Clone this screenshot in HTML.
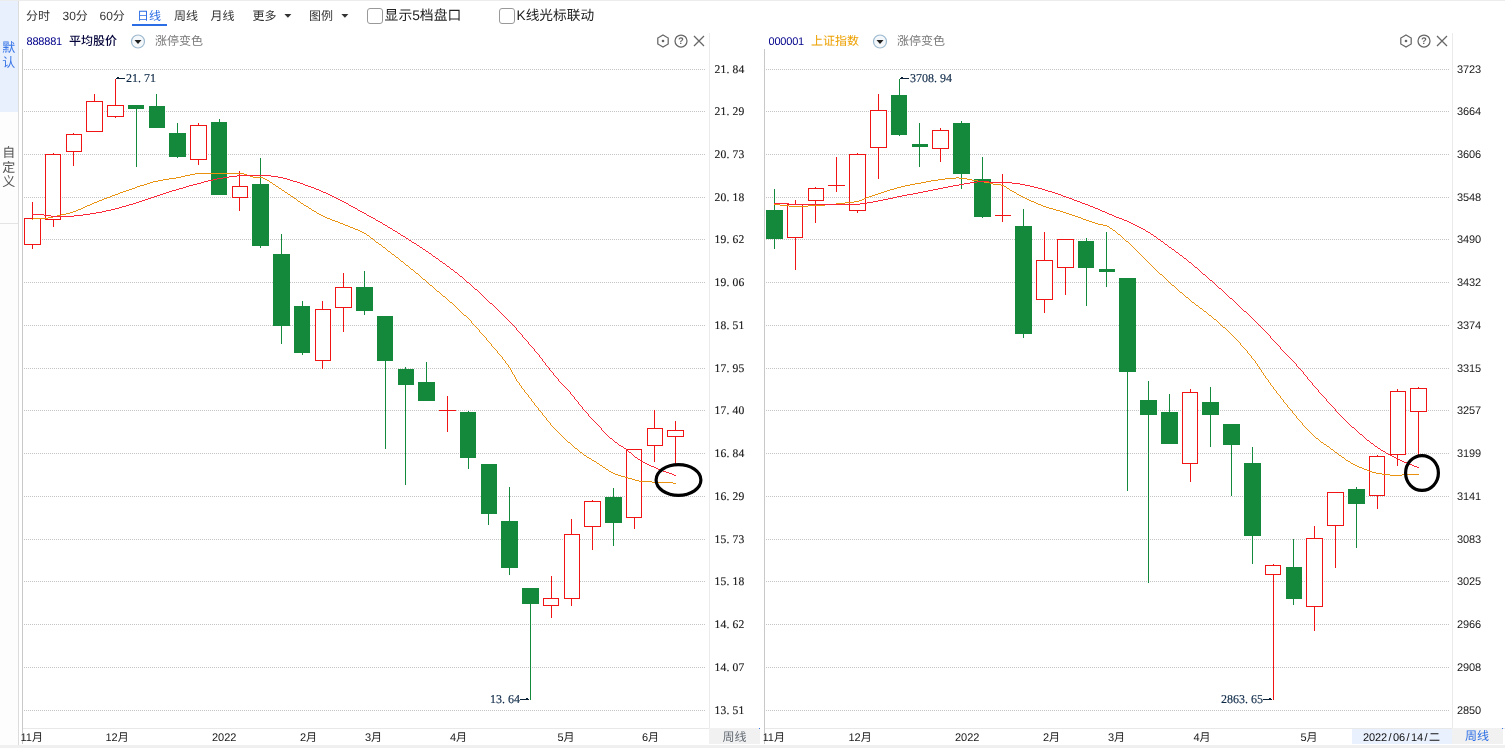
<!DOCTYPE html>
<html lang="zh-CN"><head><meta charset="utf-8"><title>K线图</title>
<style>html,body{margin:0;padding:0;background:#fff;overflow:hidden}svg{display:block}text{white-space:pre}</style>
</head><body>
<svg width="1505" height="748" viewBox="0 0 1505 748" shape-rendering="crispEdges" text-rendering="geometricPrecision">
<rect x="0" y="0" width="1505" height="748" fill="#fff"/>
<rect x="0" y="0" width="1505" height="1" fill="#ececec"/>
<rect x="0" y="745" width="1505" height="3" fill="#f0f0f0"/>
<rect x="0" y="1" width="18" height="744" fill="#fdfdfe"/>
<rect x="0" y="1" width="18" height="111" fill="#e8effd"/>
<rect x="18" y="1" width="1" height="744" fill="#dcdcdc"/>
<rect x="0" y="223" width="18" height="1" fill="#e4e4e4"/>
<text x="2.2 2.2" y="52.3 66.6" font-family="'Liberation Sans','Noto Sans CJK SC',sans-serif" font-size="13" fill="#3b78e7">默认</text>
<text x="2.2 2.2 2.2" y="157.3 171.6 185.9" font-family="'Liberation Sans','Noto Sans CJK SC',sans-serif" font-size="13" fill="#555">自定义</text>
<text x="26" y="19.9" font-family="'Liberation Sans','Noto Sans CJK SC',sans-serif" font-size="12" fill="#333">分时</text>
<text x="62.5" y="19.9" font-family="'Liberation Sans','Noto Sans CJK SC',sans-serif" font-size="12" fill="#333">30分</text>
<text x="99.5" y="19.9" font-family="'Liberation Sans','Noto Sans CJK SC',sans-serif" font-size="12" fill="#333">60分</text>
<text x="137" y="19.9" font-family="'Liberation Sans','Noto Sans CJK SC',sans-serif" font-size="12" fill="#2b6de5">日线</text>
<rect x="132" y="24" width="35" height="2" fill="#2b6de5"/>
<text x="174" y="19.9" font-family="'Liberation Sans','Noto Sans CJK SC',sans-serif" font-size="12" fill="#333">周线</text>
<text x="210.5" y="19.9" font-family="'Liberation Sans','Noto Sans CJK SC',sans-serif" font-size="12" fill="#333">月线</text>
<text x="252.5" y="19.9" font-family="'Liberation Sans','Noto Sans CJK SC',sans-serif" font-size="12" fill="#333">更多</text>
<path d="M284.4,14 L291.4,14 L287.9,17.8 Z" fill="#333" shape-rendering="geometricPrecision"/>
<text x="309" y="19.9" font-family="'Liberation Sans','Noto Sans CJK SC',sans-serif" font-size="12" fill="#333">图例</text>
<path d="M341.4,14 L348.4,14 L344.9,17.8 Z" fill="#333" shape-rendering="geometricPrecision"/>
<rect x="367.5" y="8.5" width="15" height="15" rx="2.5" fill="#fff" stroke="#999" shape-rendering="geometricPrecision"/>
<text x="384.6" y="20.3" font-family="'Liberation Sans','Noto Sans CJK SC',sans-serif" font-size="13.8" fill="#222">显示5档盘口</text>
<rect x="499.5" y="8.5" width="15" height="15" rx="2.5" fill="#fff" stroke="#999" shape-rendering="geometricPrecision"/>
<text x="516.5" y="20.3" font-family="'Liberation Sans','Noto Sans CJK SC',sans-serif" font-size="13.7" fill="#222">K线光标联动</text>
<text x="26.5" y="45" font-family="'Liberation Sans','Noto Sans CJK SC',sans-serif" font-size="11" letter-spacing="-0.2" fill="#00008b">888881</text>
<text x="69.0" y="45.4" font-family="'Liberation Sans','Noto Sans CJK SC',sans-serif" font-size="12" font-weight="500" fill="#05053c">平均股价</text>
<g shape-rendering="geometricPrecision"><circle cx="138.0" cy="41.5" r="6.5" fill="#f4f8fb" stroke="#9db9cf" stroke-width="1.2"/><path d="M134.5,40 L141.5,40 L138.0,44 Z" fill="#222"/></g>
<text x="155.0" y="45.4" font-family="'Liberation Sans','Noto Sans CJK SC',sans-serif" font-size="12" fill="#777">涨停变色</text>
<text x="768.5" y="45" font-family="'Liberation Sans','Noto Sans CJK SC',sans-serif" font-size="11" letter-spacing="-0.2" fill="#00008b">000001</text>
<text x="811.0" y="45.4" font-family="'Liberation Sans','Noto Sans CJK SC',sans-serif" font-size="12" font-weight="400" fill="#eda000">上证指数</text>
<g shape-rendering="geometricPrecision"><circle cx="880.0" cy="41.5" r="6.5" fill="#f4f8fb" stroke="#9db9cf" stroke-width="1.2"/><path d="M876.5,40 L883.5,40 L880.0,44 Z" fill="#222"/></g>
<text x="897.0" y="45.4" font-family="'Liberation Sans','Noto Sans CJK SC',sans-serif" font-size="12" fill="#777">涨停变色</text>
<g shape-rendering="geometricPrecision" fill="none" stroke="#666" stroke-width="1.25">
<path d="M663,35 L668.2,38 L668.2,44 L663,47 L657.8,44 L657.8,38 Z"/>
<circle cx="663" cy="41" r="1.3" fill="#666" stroke="none"/>
<circle cx="681" cy="41" r="6"/>
<text x="681" y="44.3" text-anchor="middle" font-family="'Liberation Sans','Noto Sans CJK SC',sans-serif" font-size="9.5" font-weight="bold" fill="#666" stroke="none">?</text>
<path d="M694,36 L704,46 M704,36 L694,46"/>
</g>
<g shape-rendering="geometricPrecision" fill="none" stroke="#666" stroke-width="1.25">
<path d="M1406,35 L1411.2,38 L1411.2,44 L1406,47 L1400.8,44 L1400.8,38 Z"/>
<circle cx="1406" cy="41" r="1.3" fill="#666" stroke="none"/>
<circle cx="1424" cy="41" r="6"/>
<text x="1424" y="44.3" text-anchor="middle" font-family="'Liberation Sans','Noto Sans CJK SC',sans-serif" font-size="9.5" font-weight="bold" fill="#666" stroke="none">?</text>
<path d="M1437,36 L1447,46 M1447,36 L1437,46"/>
</g>
<rect x="22" y="49" width="1" height="695" fill="#c8c8c8"/>
<rect x="709" y="33" width="1" height="695" fill="#ebebeb"/>
<rect x="764" y="49" width="1" height="695" fill="#c8c8c8"/>
<rect x="1452" y="33" width="1" height="695" fill="#ebebeb"/>
<rect x="23" y="728" width="686" height="1" fill="#e8e8e8"/>
<rect x="765" y="728" width="740" height="1" fill="#e8e8e8"/>
<line x1="24" y1="69.5" x2="705" y2="69.5" stroke="#c4c4c4" stroke-width="1" stroke-dasharray="1 1"/>
<line x1="766" y1="69.5" x2="1450" y2="69.5" stroke="#c4c4c4" stroke-width="1" stroke-dasharray="1 1"/>
<line x1="24" y1="111.5" x2="705" y2="111.5" stroke="#c4c4c4" stroke-width="1" stroke-dasharray="1 1"/>
<line x1="766" y1="111.5" x2="1450" y2="111.5" stroke="#c4c4c4" stroke-width="1" stroke-dasharray="1 1"/>
<line x1="24" y1="154.5" x2="705" y2="154.5" stroke="#c4c4c4" stroke-width="1" stroke-dasharray="1 1"/>
<line x1="766" y1="154.5" x2="1450" y2="154.5" stroke="#c4c4c4" stroke-width="1" stroke-dasharray="1 1"/>
<line x1="24" y1="197.5" x2="705" y2="197.5" stroke="#c4c4c4" stroke-width="1" stroke-dasharray="1 1"/>
<line x1="766" y1="197.5" x2="1450" y2="197.5" stroke="#c4c4c4" stroke-width="1" stroke-dasharray="1 1"/>
<line x1="24" y1="239.5" x2="705" y2="239.5" stroke="#c4c4c4" stroke-width="1" stroke-dasharray="1 1"/>
<line x1="766" y1="239.5" x2="1450" y2="239.5" stroke="#c4c4c4" stroke-width="1" stroke-dasharray="1 1"/>
<line x1="24" y1="282.5" x2="705" y2="282.5" stroke="#c4c4c4" stroke-width="1" stroke-dasharray="1 1"/>
<line x1="766" y1="282.5" x2="1450" y2="282.5" stroke="#c4c4c4" stroke-width="1" stroke-dasharray="1 1"/>
<line x1="24" y1="325.5" x2="705" y2="325.5" stroke="#c4c4c4" stroke-width="1" stroke-dasharray="1 1"/>
<line x1="766" y1="325.5" x2="1450" y2="325.5" stroke="#c4c4c4" stroke-width="1" stroke-dasharray="1 1"/>
<line x1="24" y1="368.5" x2="705" y2="368.5" stroke="#c4c4c4" stroke-width="1" stroke-dasharray="1 1"/>
<line x1="766" y1="368.5" x2="1450" y2="368.5" stroke="#c4c4c4" stroke-width="1" stroke-dasharray="1 1"/>
<line x1="24" y1="410.5" x2="705" y2="410.5" stroke="#c4c4c4" stroke-width="1" stroke-dasharray="1 1"/>
<line x1="766" y1="410.5" x2="1450" y2="410.5" stroke="#c4c4c4" stroke-width="1" stroke-dasharray="1 1"/>
<line x1="24" y1="453.5" x2="705" y2="453.5" stroke="#c4c4c4" stroke-width="1" stroke-dasharray="1 1"/>
<line x1="766" y1="453.5" x2="1450" y2="453.5" stroke="#c4c4c4" stroke-width="1" stroke-dasharray="1 1"/>
<line x1="24" y1="496.5" x2="705" y2="496.5" stroke="#c4c4c4" stroke-width="1" stroke-dasharray="1 1"/>
<line x1="766" y1="496.5" x2="1450" y2="496.5" stroke="#c4c4c4" stroke-width="1" stroke-dasharray="1 1"/>
<line x1="24" y1="539.5" x2="705" y2="539.5" stroke="#c4c4c4" stroke-width="1" stroke-dasharray="1 1"/>
<line x1="766" y1="539.5" x2="1450" y2="539.5" stroke="#c4c4c4" stroke-width="1" stroke-dasharray="1 1"/>
<line x1="24" y1="581.5" x2="705" y2="581.5" stroke="#c4c4c4" stroke-width="1" stroke-dasharray="1 1"/>
<line x1="766" y1="581.5" x2="1450" y2="581.5" stroke="#c4c4c4" stroke-width="1" stroke-dasharray="1 1"/>
<line x1="24" y1="624.5" x2="705" y2="624.5" stroke="#c4c4c4" stroke-width="1" stroke-dasharray="1 1"/>
<line x1="766" y1="624.5" x2="1450" y2="624.5" stroke="#c4c4c4" stroke-width="1" stroke-dasharray="1 1"/>
<line x1="24" y1="667.5" x2="705" y2="667.5" stroke="#c4c4c4" stroke-width="1" stroke-dasharray="1 1"/>
<line x1="766" y1="667.5" x2="1450" y2="667.5" stroke="#c4c4c4" stroke-width="1" stroke-dasharray="1 1"/>
<line x1="24" y1="710.5" x2="705" y2="710.5" stroke="#c4c4c4" stroke-width="1" stroke-dasharray="1 1"/>
<line x1="766" y1="710.5" x2="1450" y2="710.5" stroke="#c4c4c4" stroke-width="1" stroke-dasharray="1 1"/>
<text x="714.4 720.4 726.4 732.4 738.4" y="72.9" font-family="'Liberation Serif','Noto Serif CJK SC',serif" font-size="11.6" fill="#1a1a1a" stroke="#1a1a1a" stroke-width="0.15">21.84</text>
<text x="714.4 720.4 726.4 732.4 738.4" y="114.9" font-family="'Liberation Serif','Noto Serif CJK SC',serif" font-size="11.6" fill="#1a1a1a" stroke="#1a1a1a" stroke-width="0.15">21.29</text>
<text x="714.4 720.4 726.4 732.4 738.4" y="157.9" font-family="'Liberation Serif','Noto Serif CJK SC',serif" font-size="11.6" fill="#1a1a1a" stroke="#1a1a1a" stroke-width="0.15">20.73</text>
<text x="714.4 720.4 726.4 732.4 738.4" y="200.9" font-family="'Liberation Serif','Noto Serif CJK SC',serif" font-size="11.6" fill="#1a1a1a" stroke="#1a1a1a" stroke-width="0.15">20.18</text>
<text x="714.4 720.4 726.4 732.4 738.4" y="242.9" font-family="'Liberation Serif','Noto Serif CJK SC',serif" font-size="11.6" fill="#1a1a1a" stroke="#1a1a1a" stroke-width="0.15">19.62</text>
<text x="714.4 720.4 726.4 732.4 738.4" y="285.9" font-family="'Liberation Serif','Noto Serif CJK SC',serif" font-size="11.6" fill="#1a1a1a" stroke="#1a1a1a" stroke-width="0.15">19.06</text>
<text x="714.4 720.4 726.4 732.4 738.4" y="328.9" font-family="'Liberation Serif','Noto Serif CJK SC',serif" font-size="11.6" fill="#1a1a1a" stroke="#1a1a1a" stroke-width="0.15">18.51</text>
<text x="714.4 720.4 726.4 732.4 738.4" y="371.9" font-family="'Liberation Serif','Noto Serif CJK SC',serif" font-size="11.6" fill="#1a1a1a" stroke="#1a1a1a" stroke-width="0.15">17.95</text>
<text x="714.4 720.4 726.4 732.4 738.4" y="413.9" font-family="'Liberation Serif','Noto Serif CJK SC',serif" font-size="11.6" fill="#1a1a1a" stroke="#1a1a1a" stroke-width="0.15">17.40</text>
<text x="714.4 720.4 726.4 732.4 738.4" y="456.9" font-family="'Liberation Serif','Noto Serif CJK SC',serif" font-size="11.6" fill="#1a1a1a" stroke="#1a1a1a" stroke-width="0.15">16.84</text>
<text x="714.4 720.4 726.4 732.4 738.4" y="499.9" font-family="'Liberation Serif','Noto Serif CJK SC',serif" font-size="11.6" fill="#1a1a1a" stroke="#1a1a1a" stroke-width="0.15">16.29</text>
<text x="714.4 720.4 726.4 732.4 738.4" y="542.9" font-family="'Liberation Serif','Noto Serif CJK SC',serif" font-size="11.6" fill="#1a1a1a" stroke="#1a1a1a" stroke-width="0.15">15.73</text>
<text x="714.4 720.4 726.4 732.4 738.4" y="584.9" font-family="'Liberation Serif','Noto Serif CJK SC',serif" font-size="11.6" fill="#1a1a1a" stroke="#1a1a1a" stroke-width="0.15">15.18</text>
<text x="714.4 720.4 726.4 732.4 738.4" y="627.9" font-family="'Liberation Serif','Noto Serif CJK SC',serif" font-size="11.6" fill="#1a1a1a" stroke="#1a1a1a" stroke-width="0.15">14.62</text>
<text x="714.4 720.4 726.4 732.4 738.4" y="670.9" font-family="'Liberation Serif','Noto Serif CJK SC',serif" font-size="11.6" fill="#1a1a1a" stroke="#1a1a1a" stroke-width="0.15">14.07</text>
<text x="714.4 720.4 726.4 732.4 738.4" y="713.9" font-family="'Liberation Serif','Noto Serif CJK SC',serif" font-size="11.6" fill="#1a1a1a" stroke="#1a1a1a" stroke-width="0.15">13.51</text>
<text x="1457" y="72.7" font-family="'Liberation Sans','Noto Sans CJK SC',sans-serif" font-size="11" letter-spacing="-0.1" fill="#1a1a1a">3723</text>
<text x="1457" y="114.7" font-family="'Liberation Sans','Noto Sans CJK SC',sans-serif" font-size="11" letter-spacing="-0.1" fill="#1a1a1a">3664</text>
<text x="1457" y="157.7" font-family="'Liberation Sans','Noto Sans CJK SC',sans-serif" font-size="11" letter-spacing="-0.1" fill="#1a1a1a">3606</text>
<text x="1457" y="200.7" font-family="'Liberation Sans','Noto Sans CJK SC',sans-serif" font-size="11" letter-spacing="-0.1" fill="#1a1a1a">3548</text>
<text x="1457" y="242.7" font-family="'Liberation Sans','Noto Sans CJK SC',sans-serif" font-size="11" letter-spacing="-0.1" fill="#1a1a1a">3490</text>
<text x="1457" y="285.7" font-family="'Liberation Sans','Noto Sans CJK SC',sans-serif" font-size="11" letter-spacing="-0.1" fill="#1a1a1a">3432</text>
<text x="1457" y="328.7" font-family="'Liberation Sans','Noto Sans CJK SC',sans-serif" font-size="11" letter-spacing="-0.1" fill="#1a1a1a">3374</text>
<text x="1457" y="371.7" font-family="'Liberation Sans','Noto Sans CJK SC',sans-serif" font-size="11" letter-spacing="-0.1" fill="#1a1a1a">3315</text>
<text x="1457" y="413.7" font-family="'Liberation Sans','Noto Sans CJK SC',sans-serif" font-size="11" letter-spacing="-0.1" fill="#1a1a1a">3257</text>
<text x="1457" y="456.7" font-family="'Liberation Sans','Noto Sans CJK SC',sans-serif" font-size="11" letter-spacing="-0.1" fill="#1a1a1a">3199</text>
<text x="1457" y="499.7" font-family="'Liberation Sans','Noto Sans CJK SC',sans-serif" font-size="11" letter-spacing="-0.1" fill="#1a1a1a">3141</text>
<text x="1457" y="542.7" font-family="'Liberation Sans','Noto Sans CJK SC',sans-serif" font-size="11" letter-spacing="-0.1" fill="#1a1a1a">3083</text>
<text x="1457" y="584.7" font-family="'Liberation Sans','Noto Sans CJK SC',sans-serif" font-size="11" letter-spacing="-0.1" fill="#1a1a1a">3025</text>
<text x="1457" y="627.7" font-family="'Liberation Sans','Noto Sans CJK SC',sans-serif" font-size="11" letter-spacing="-0.1" fill="#1a1a1a">2966</text>
<text x="1457" y="670.7" font-family="'Liberation Sans','Noto Sans CJK SC',sans-serif" font-size="11" letter-spacing="-0.1" fill="#1a1a1a">2908</text>
<text x="1457" y="713.7" font-family="'Liberation Sans','Noto Sans CJK SC',sans-serif" font-size="11" letter-spacing="-0.1" fill="#1a1a1a">2850</text>
<rect x="32" y="202" width="1" height="16" fill="#f01414"/>
<rect x="32" y="245" width="1" height="4" fill="#f01414"/>
<rect x="24.5" y="218.5" width="16" height="26" fill="#fff" stroke="#f01414" stroke-width="1"/>
<rect x="53" y="153" width="1" height="1" fill="#f01414"/>
<rect x="53" y="220" width="1" height="7" fill="#f01414"/>
<rect x="45.5" y="154.5" width="15" height="65" fill="#fff" stroke="#f01414" stroke-width="1"/>
<rect x="73" y="133" width="1" height="1" fill="#f01414"/>
<rect x="73" y="152" width="1" height="14" fill="#f01414"/>
<rect x="66.5" y="134.5" width="15" height="17" fill="#fff" stroke="#f01414" stroke-width="1"/>
<rect x="94" y="94" width="1" height="7" fill="#f01414"/>
<rect x="86.5" y="101.5" width="16" height="30" fill="#fff" stroke="#f01414" stroke-width="1"/>
<rect x="115" y="79" width="1" height="26" fill="#f01414"/>
<rect x="115" y="117" width="1" height="1" fill="#f01414"/>
<rect x="107.5" y="105.5" width="16" height="11" fill="#fff" stroke="#f01414" stroke-width="1"/>
<rect x="136" y="105" width="1" height="62" fill="#14893c"/>
<rect x="128" y="105" width="16" height="4" fill="#14893c"/>
<rect x="156" y="94" width="1" height="34" fill="#14893c"/>
<rect x="149" y="106" width="16" height="22" fill="#14893c"/>
<rect x="177" y="123" width="1" height="35" fill="#14893c"/>
<rect x="169" y="133" width="17" height="24" fill="#14893c"/>
<rect x="198" y="123" width="1" height="2" fill="#f01414"/>
<rect x="198" y="160" width="1" height="5" fill="#f01414"/>
<rect x="190.5" y="125.5" width="16" height="34" fill="#fff" stroke="#f01414" stroke-width="1"/>
<rect x="219" y="119" width="1" height="76" fill="#14893c"/>
<rect x="211" y="122" width="16" height="73" fill="#14893c"/>
<rect x="239" y="171" width="1" height="15" fill="#f01414"/>
<rect x="239" y="198" width="1" height="13" fill="#f01414"/>
<rect x="232.5" y="186.5" width="15" height="11" fill="#fff" stroke="#f01414" stroke-width="1"/>
<rect x="260" y="158" width="1" height="90" fill="#14893c"/>
<rect x="252" y="184" width="17" height="62" fill="#14893c"/>
<rect x="281" y="234" width="1" height="110" fill="#14893c"/>
<rect x="273" y="254" width="17" height="72" fill="#14893c"/>
<rect x="302" y="301" width="1" height="54" fill="#14893c"/>
<rect x="294" y="306" width="16" height="47" fill="#14893c"/>
<rect x="322" y="301" width="1" height="8" fill="#f01414"/>
<rect x="322" y="361" width="1" height="8" fill="#f01414"/>
<rect x="315.5" y="309.5" width="15" height="51" fill="#fff" stroke="#f01414" stroke-width="1"/>
<rect x="343" y="273" width="1" height="14" fill="#f01414"/>
<rect x="343" y="308" width="1" height="24" fill="#f01414"/>
<rect x="335.5" y="287.5" width="16" height="20" fill="#fff" stroke="#f01414" stroke-width="1"/>
<rect x="364" y="271" width="1" height="44" fill="#14893c"/>
<rect x="356" y="287" width="17" height="24" fill="#14893c"/>
<rect x="385" y="316" width="1" height="133" fill="#14893c"/>
<rect x="377" y="316" width="16" height="45" fill="#14893c"/>
<rect x="405" y="367" width="1" height="118" fill="#14893c"/>
<rect x="398" y="369" width="16" height="16" fill="#14893c"/>
<rect x="426" y="362" width="1" height="39" fill="#14893c"/>
<rect x="418" y="382" width="17" height="19" fill="#14893c"/>
<rect x="447" y="396" width="1" height="36" fill="#f01414"/>
<rect x="439" y="410" width="17" height="1" fill="#f01414"/>
<rect x="468" y="411" width="1" height="58" fill="#14893c"/>
<rect x="460" y="412" width="16" height="46" fill="#14893c"/>
<rect x="488" y="464" width="1" height="61" fill="#14893c"/>
<rect x="481" y="464" width="16" height="50" fill="#14893c"/>
<rect x="509" y="487" width="1" height="88" fill="#14893c"/>
<rect x="501" y="521" width="17" height="47" fill="#14893c"/>
<rect x="530" y="588" width="1" height="112" fill="#14893c"/>
<rect x="522" y="588" width="17" height="16" fill="#14893c"/>
<rect x="551" y="576" width="1" height="22" fill="#f01414"/>
<rect x="551" y="606" width="1" height="12" fill="#f01414"/>
<rect x="543.5" y="598.5" width="15" height="7" fill="#fff" stroke="#f01414" stroke-width="1"/>
<rect x="571" y="519" width="1" height="15" fill="#f01414"/>
<rect x="571" y="599" width="1" height="7" fill="#f01414"/>
<rect x="564.5" y="534.5" width="15" height="64" fill="#fff" stroke="#f01414" stroke-width="1"/>
<rect x="592" y="500" width="1" height="1" fill="#f01414"/>
<rect x="592" y="527" width="1" height="23" fill="#f01414"/>
<rect x="584.5" y="501.5" width="16" height="25" fill="#fff" stroke="#f01414" stroke-width="1"/>
<rect x="613" y="488" width="1" height="58" fill="#14893c"/>
<rect x="605" y="497" width="17" height="26" fill="#14893c"/>
<rect x="634" y="518" width="1" height="11" fill="#f01414"/>
<rect x="626.5" y="449.5" width="15" height="68" fill="#fff" stroke="#f01414" stroke-width="1"/>
<rect x="654" y="410" width="1" height="18" fill="#f01414"/>
<rect x="654" y="446" width="1" height="16" fill="#f01414"/>
<rect x="647.5" y="428.5" width="15" height="17" fill="#fff" stroke="#f01414" stroke-width="1"/>
<rect x="675" y="421" width="1" height="9" fill="#f01414"/>
<rect x="675" y="437" width="1" height="29" fill="#f01414"/>
<rect x="667.5" y="430.5" width="16" height="6" fill="#fff" stroke="#f01414" stroke-width="1"/>
<rect x="774" y="189" width="1" height="60" fill="#14893c"/>
<rect x="766" y="210" width="17" height="29" fill="#14893c"/>
<rect x="795" y="200" width="1" height="4" fill="#f01414"/>
<rect x="795" y="238" width="1" height="32" fill="#f01414"/>
<rect x="787.5" y="204.5" width="15" height="33" fill="#fff" stroke="#f01414" stroke-width="1"/>
<rect x="815" y="187" width="1" height="1" fill="#f01414"/>
<rect x="815" y="201" width="1" height="22" fill="#f01414"/>
<rect x="808.5" y="188.5" width="15" height="12" fill="#fff" stroke="#f01414" stroke-width="1"/>
<rect x="836" y="157" width="1" height="35" fill="#f01414"/>
<rect x="828" y="185" width="17" height="1" fill="#f01414"/>
<rect x="857" y="153" width="1" height="1" fill="#f01414"/>
<rect x="857" y="211" width="1" height="2" fill="#f01414"/>
<rect x="849.5" y="154.5" width="16" height="56" fill="#fff" stroke="#f01414" stroke-width="1"/>
<rect x="878" y="94" width="1" height="16" fill="#f01414"/>
<rect x="878" y="148" width="1" height="31" fill="#f01414"/>
<rect x="870.5" y="110.5" width="16" height="37" fill="#fff" stroke="#f01414" stroke-width="1"/>
<rect x="899" y="79" width="1" height="57" fill="#14893c"/>
<rect x="891" y="95" width="16" height="40" fill="#14893c"/>
<rect x="919" y="123" width="1" height="44" fill="#14893c"/>
<rect x="912" y="144" width="16" height="3" fill="#14893c"/>
<rect x="940" y="128" width="1" height="2" fill="#f01414"/>
<rect x="940" y="149" width="1" height="13" fill="#f01414"/>
<rect x="932.5" y="130.5" width="16" height="18" fill="#fff" stroke="#f01414" stroke-width="1"/>
<rect x="961" y="121" width="1" height="68" fill="#14893c"/>
<rect x="953" y="123" width="17" height="51" fill="#14893c"/>
<rect x="982" y="157" width="1" height="61" fill="#14893c"/>
<rect x="974" y="179" width="17" height="38" fill="#14893c"/>
<rect x="1002" y="174" width="1" height="48" fill="#f01414"/>
<rect x="995" y="215" width="16" height="1" fill="#f01414"/>
<rect x="1023" y="209" width="1" height="129" fill="#14893c"/>
<rect x="1015" y="226" width="17" height="108" fill="#14893c"/>
<rect x="1044" y="232" width="1" height="28" fill="#f01414"/>
<rect x="1044" y="300" width="1" height="13" fill="#f01414"/>
<rect x="1036.5" y="260.5" width="16" height="39" fill="#fff" stroke="#f01414" stroke-width="1"/>
<rect x="1065" y="268" width="1" height="27" fill="#f01414"/>
<rect x="1057.5" y="239.5" width="16" height="28" fill="#fff" stroke="#f01414" stroke-width="1"/>
<rect x="1086" y="238" width="1" height="68" fill="#14893c"/>
<rect x="1078" y="241" width="16" height="27" fill="#14893c"/>
<rect x="1106" y="232" width="1" height="55" fill="#14893c"/>
<rect x="1099" y="269" width="16" height="3" fill="#14893c"/>
<rect x="1127" y="278" width="1" height="213" fill="#14893c"/>
<rect x="1119" y="278" width="17" height="94" fill="#14893c"/>
<rect x="1148" y="381" width="1" height="202" fill="#14893c"/>
<rect x="1140" y="400" width="17" height="15" fill="#14893c"/>
<rect x="1169" y="394" width="1" height="50" fill="#14893c"/>
<rect x="1161" y="412" width="17" height="32" fill="#14893c"/>
<rect x="1190" y="389" width="1" height="3" fill="#f01414"/>
<rect x="1190" y="464" width="1" height="18" fill="#f01414"/>
<rect x="1182.5" y="392.5" width="15" height="71" fill="#fff" stroke="#f01414" stroke-width="1"/>
<rect x="1210" y="387" width="1" height="60" fill="#14893c"/>
<rect x="1202" y="402" width="17" height="13" fill="#14893c"/>
<rect x="1231" y="424" width="1" height="72" fill="#14893c"/>
<rect x="1223" y="424" width="17" height="21" fill="#14893c"/>
<rect x="1252" y="447" width="1" height="117" fill="#14893c"/>
<rect x="1244" y="463" width="17" height="73" fill="#14893c"/>
<rect x="1273" y="564" width="1" height="1" fill="#f01414"/>
<rect x="1273" y="575" width="1" height="125" fill="#f01414"/>
<rect x="1265.5" y="565.5" width="15" height="9" fill="#fff" stroke="#f01414" stroke-width="1"/>
<rect x="1293" y="539" width="1" height="66" fill="#14893c"/>
<rect x="1286" y="567" width="16" height="32" fill="#14893c"/>
<rect x="1314" y="526" width="1" height="12" fill="#f01414"/>
<rect x="1314" y="607" width="1" height="24" fill="#f01414"/>
<rect x="1306.5" y="538.5" width="16" height="68" fill="#fff" stroke="#f01414" stroke-width="1"/>
<rect x="1335" y="526" width="1" height="42" fill="#f01414"/>
<rect x="1327.5" y="492.5" width="16" height="33" fill="#fff" stroke="#f01414" stroke-width="1"/>
<rect x="1356" y="487" width="1" height="61" fill="#14893c"/>
<rect x="1348" y="489" width="17" height="15" fill="#14893c"/>
<rect x="1377" y="455" width="1" height="1" fill="#f01414"/>
<rect x="1377" y="496" width="1" height="13" fill="#f01414"/>
<rect x="1369.5" y="456.5" width="15" height="39" fill="#fff" stroke="#f01414" stroke-width="1"/>
<rect x="1397" y="389" width="1" height="2" fill="#f01414"/>
<rect x="1397" y="455" width="1" height="11" fill="#f01414"/>
<rect x="1390.5" y="391.5" width="15" height="63" fill="#fff" stroke="#f01414" stroke-width="1"/>
<rect x="1418" y="387" width="1" height="1" fill="#f01414"/>
<rect x="1418" y="412" width="1" height="43" fill="#f01414"/>
<rect x="1410.5" y="388.5" width="16" height="23" fill="#fff" stroke="#f01414" stroke-width="1"/>
<path d="M32.5,219V220M33.5,218V219M34.5,218V219M35.5,218V219M36.5,218V219M37.5,218V219M38.5,218V219M39.5,218V219M40.5,218V219M41.5,218V219M42.5,218V219M43.5,218V219M44.5,218V219M45.5,218V219M46.5,218V219M47.5,218V219M48.5,217V218M49.5,217V218M50.5,217V218M51.5,217V218M52.5,217V218M53.5,216V217M54.5,216V217M55.5,216V217M56.5,216V217M57.5,215V216M58.5,215V216M59.5,215V216M60.5,215V216M61.5,214V215M62.5,214V215M63.5,214V215M64.5,214V215M65.5,214V215M66.5,213V214M67.5,213V214M68.5,213V214M69.5,213V214M70.5,212V213M71.5,212V213M72.5,212V213M73.5,211V212M74.5,211V212M75.5,211V212M76.5,210V211M77.5,210V211M78.5,209V210M79.5,209V210M80.5,209V210M81.5,208V209M82.5,208V209M83.5,207V208M84.5,207V208M85.5,206V207M86.5,206V207M87.5,205V206M88.5,205V206M89.5,205V206M90.5,204V205M91.5,204V205M92.5,203V204M93.5,203V204M94.5,202V203M95.5,202V203M96.5,202V203M97.5,201V202M98.5,201V202M99.5,200V201M100.5,200V201M101.5,200V201M102.5,199V200M103.5,199V200M104.5,198V199M105.5,198V199M106.5,198V199M107.5,197V198M108.5,197V198M109.5,197V198M110.5,196V197M111.5,196V197M112.5,195V196M113.5,195V196M114.5,195V196M115.5,194V195M116.5,194V195M117.5,194V195M118.5,193V194M119.5,193V194M120.5,192V193M121.5,192V193M122.5,192V193M123.5,191V192M124.5,191V192M125.5,191V192M126.5,190V191M127.5,190V191M128.5,190V191M129.5,189V190M130.5,189V190M131.5,189V190M132.5,188V189M133.5,188V189M134.5,188V189M135.5,187V188M136.5,187V188M137.5,186V187M138.5,186V187M139.5,186V187M140.5,185V186M141.5,185V186M142.5,185V186M143.5,185V186M144.5,184V185M145.5,184V185M146.5,184V185M147.5,183V184M148.5,183V184M149.5,183V184M150.5,182V183M151.5,182V183M152.5,182V183M153.5,181V182M154.5,181V182M155.5,181V182M156.5,181V182M157.5,181V182M158.5,180V181M159.5,180V181M160.5,180V181M161.5,180V181M162.5,180V181M163.5,179V180M164.5,179V180M165.5,179V180M166.5,179V180M167.5,179V180M168.5,179V180M169.5,178V179M170.5,178V179M171.5,178V179M172.5,178V179M173.5,178V179M174.5,178V179M175.5,178V179M176.5,177V178M177.5,177V178M178.5,177V178M179.5,177V178M180.5,177V178M181.5,176V177M182.5,176V177M183.5,176V177M184.5,176V177M185.5,175V176M186.5,175V176M187.5,175V176M188.5,175V176M189.5,175V176M190.5,174V175M191.5,174V175M192.5,174V175M193.5,174V175M194.5,174V175M195.5,173V174M196.5,173V174M197.5,173V174M198.5,173V174M199.5,173V174M200.5,173V174M201.5,173V174M202.5,173V174M203.5,173V174M204.5,173V174M205.5,173V174M206.5,173V174M207.5,173V174M208.5,173V174M209.5,173V174M210.5,173V174M211.5,173V174M212.5,173V174M213.5,173V174M214.5,173V174M215.5,173V174M216.5,173V174M217.5,173V174M218.5,173V174M219.5,173V174M220.5,173V174M221.5,173V174M222.5,173V174M223.5,173V174M224.5,173V174M225.5,173V174M226.5,173V174M227.5,173V174M228.5,173V174M229.5,173V174M230.5,173V174M231.5,173V174M232.5,173V174M233.5,173V174M234.5,173V174M235.5,173V174M236.5,173V174M237.5,173V174M238.5,173V174M239.5,173V174M240.5,173V174M241.5,173V174M242.5,173V174M243.5,173V174M244.5,174V175M245.5,174V175M246.5,174V175M247.5,175V176M248.5,175V176M249.5,175V176M250.5,176V177M251.5,176V177M252.5,176V177M253.5,177V178M254.5,177V178M255.5,177V178M256.5,177V178M257.5,177V178M258.5,177V178M259.5,177V178M260.5,177V178M261.5,177V178M262.5,177V178M263.5,178V179M264.5,178V179M265.5,179V180M266.5,179V180M267.5,180V181M268.5,180V181M269.5,181V182M270.5,182V183M271.5,182V183M272.5,183V184M273.5,184V185M274.5,184V185M275.5,185V186M276.5,186V187M277.5,186V187M278.5,187V188M279.5,188V189M280.5,188V189M281.5,189V190M282.5,190V191M283.5,190V191M284.5,191V192M285.5,192V193M286.5,192V193M287.5,193V194M288.5,194V195M289.5,194V195M290.5,195V196M291.5,196V197M292.5,196V197M293.5,197V198M294.5,198V199M295.5,198V199M296.5,199V200M297.5,200V201M298.5,201V202M299.5,201V202M300.5,202V203M301.5,203V204M302.5,203V204M303.5,204V205M304.5,205V206M305.5,205V206M306.5,206V207M307.5,206V207M308.5,207V208M309.5,208V209M310.5,208V209M311.5,209V210M312.5,210V211M313.5,210V211M314.5,211V212M315.5,211V212M316.5,212V213M317.5,213V214M318.5,213V214M319.5,214V215M320.5,214V215M321.5,215V216M322.5,215V216M323.5,216V217M324.5,216V217M325.5,217V218M326.5,217V218M327.5,218V219M328.5,218V219M329.5,218V219M330.5,219V220M331.5,219V220M332.5,220V221M333.5,220V221M334.5,220V221M335.5,221V222M336.5,221V222M337.5,221V222M338.5,222V223M339.5,222V223M340.5,223V224M341.5,223V224M342.5,223V224M343.5,224V225M344.5,224V225M345.5,225V226M346.5,225V226M347.5,225V226M348.5,226V227M349.5,226V227M350.5,227V228M351.5,227V228M352.5,227V228M353.5,228V229M354.5,228V229M355.5,229V230M356.5,229V230M357.5,229V230M358.5,230V231M359.5,230V231M360.5,231V232M361.5,231V232M362.5,232V233M363.5,232V233M364.5,233V234M365.5,233V234M366.5,234V235M367.5,235V236M368.5,235V236M369.5,236V237M370.5,237V238M371.5,238V239M372.5,238V239M373.5,239V240M374.5,240V241M375.5,241V242M376.5,242V243M377.5,242V243M378.5,243V244M379.5,244V245M380.5,244V245M381.5,245V246M382.5,246V247M383.5,247V248M384.5,247V248M385.5,248V249M386.5,249V250M387.5,250V251M388.5,251V252M389.5,251V252M390.5,252V253M391.5,253V254M392.5,254V255M393.5,254V255M394.5,255V256M395.5,256V257M396.5,257V258M397.5,257V258M398.5,258V259M399.5,259V260M400.5,260V261M401.5,261V262M402.5,261V262M403.5,262V263M404.5,263V264M405.5,264V265M406.5,265V266M407.5,265V266M408.5,266V267M409.5,267V268M410.5,268V269M411.5,269V270M412.5,269V270M413.5,270V271M414.5,271V272M415.5,272V273M416.5,273V274M417.5,273V274M418.5,274V275M419.5,275V276M420.5,276V277M421.5,277V278M422.5,278V279M423.5,279V280M424.5,279V280M425.5,280V281M426.5,281V282M427.5,282V283M428.5,283V284M429.5,284V285M430.5,285V286M431.5,285V286M432.5,286V287M433.5,287V288M434.5,288V289M435.5,289V290M436.5,290V291M437.5,291V292M438.5,291V292M439.5,292V293M440.5,293V294M441.5,294V295M442.5,295V296M443.5,296V297M444.5,296V297M445.5,297V298M446.5,298V299M447.5,299V300M448.5,300V301M449.5,301V302M450.5,302V303M451.5,302V303M452.5,303V304M453.5,304V305M454.5,305V306M455.5,306V307M456.5,307V308M457.5,308V309M458.5,309V310M459.5,310V311M460.5,311V312M461.5,312V313M462.5,313V314M463.5,314V315M464.5,315V316M465.5,315V316M466.5,316V317M467.5,317V318M468.5,318V319M469.5,319V320M470.5,320V321M471.5,321V323M472.5,323V324M473.5,324V325M474.5,325V326M475.5,326V327M476.5,327V328M477.5,328V329M478.5,329V330M479.5,330V332M480.5,332V333M481.5,333V334M482.5,334V335M483.5,335V336M484.5,336V337M485.5,337V338M486.5,338V340M487.5,340V341M488.5,341V342M489.5,342V343M490.5,343V344M491.5,344V346M492.5,346V347M493.5,347V348M494.5,348V349M495.5,349V350M496.5,350V351M497.5,351V353M498.5,353V354M499.5,354V355M500.5,355V356M501.5,356V357M502.5,357V359M503.5,359V360M504.5,360V361M505.5,361V363M506.5,363V364M507.5,364V365M508.5,365V367M509.5,367V368M510.5,368V370M511.5,370V372M512.5,372V374M513.5,374V375M514.5,375V377M515.5,377V379M516.5,379V381M517.5,381V382M518.5,382V383M519.5,383V385M520.5,385V386M521.5,386V388M522.5,388V389M523.5,389V390M524.5,390V392M525.5,392V393M526.5,393V394M527.5,394V395M528.5,395V397M529.5,397V398M530.5,398V399M531.5,399V401M532.5,401V402M533.5,402V403M534.5,403V405M535.5,405V406M536.5,406V407M537.5,407V408M538.5,408V410M539.5,410V411M540.5,411V412M541.5,412V413M542.5,413V415M543.5,415V416M544.5,416V417M545.5,417V418M546.5,418V420M547.5,420V421M548.5,421V422M549.5,422V423M550.5,423V425M551.5,425V426M552.5,426V427M553.5,427V428M554.5,428V429M555.5,429V430M556.5,430V431M557.5,431V432M558.5,432V433M559.5,433V434M560.5,434V435M561.5,435V436M562.5,436V437M563.5,437V438M564.5,438V439M565.5,439V440M566.5,440V441M567.5,441V442M568.5,442V443M569.5,442V443M570.5,443V444M571.5,444V445M572.5,445V446M573.5,446V447M574.5,447V448M575.5,448V449M576.5,448V449M577.5,449V450M578.5,450V451M579.5,451V452M580.5,452V453M581.5,452V453M582.5,453V454M583.5,454V455M584.5,455V456M585.5,455V456M586.5,456V457M587.5,457V458M588.5,457V458M589.5,458V459M590.5,458V459M591.5,459V460M592.5,460V461M593.5,460V461M594.5,461V462M595.5,461V462M596.5,462V463M597.5,463V464M598.5,463V464M599.5,464V465M600.5,465V466M601.5,465V466M602.5,466V467M603.5,467V468M604.5,467V468M605.5,468V469M606.5,469V470M607.5,469V470M608.5,470V471M609.5,471V472M610.5,471V472M611.5,472V473M612.5,472V473M613.5,473V474M614.5,473V474M615.5,474V475M616.5,474V475M617.5,474V475M618.5,475V476M619.5,475V476M620.5,475V476M621.5,476V477M622.5,476V477M623.5,476V477M624.5,476V477M625.5,477V478M626.5,477V478M627.5,477V478M628.5,478V479M629.5,478V479M630.5,478V479M631.5,478V479M632.5,479V480M633.5,479V480M634.5,479V480M635.5,480V481M636.5,480V481M637.5,480V481M638.5,480V481M639.5,481V482M640.5,481V482M641.5,481V482M642.5,481V482M643.5,481V482M644.5,481V482M645.5,481V482M646.5,481V482M647.5,481V482M648.5,481V482M649.5,481V482M650.5,481V482M651.5,481V482M652.5,482V483M653.5,482V483M654.5,482V483M655.5,482V483M656.5,482V483M657.5,482V483M658.5,482V483M659.5,482V483M660.5,482V483M661.5,482V483M662.5,482V483M663.5,482V483M664.5,482V483M665.5,482V483M666.5,482V483M667.5,482V483M668.5,482V483M669.5,482V483M670.5,482V483M671.5,482V483M672.5,482V483M673.5,483V484M674.5,483V484M675.5,483V484" stroke="#e8920f" stroke-width="1" fill="none"/>
<path d="M32.5,214V215M33.5,214V215M34.5,214V215M35.5,214V215M36.5,214V215M37.5,214V215M38.5,214V215M39.5,214V215M40.5,214V215M41.5,214V215M42.5,214V215M43.5,214V215M44.5,215V216M45.5,215V216M46.5,215V216M47.5,215V216M48.5,215V216M49.5,215V216M50.5,215V216M51.5,216V217M52.5,216V217M53.5,216V217M54.5,216V217M55.5,216V217M56.5,216V217M57.5,216V217M58.5,216V217M59.5,216V217M60.5,216V217M61.5,216V217M62.5,216V217M63.5,216V217M64.5,216V217M65.5,216V217M66.5,216V217M67.5,216V217M68.5,216V217M69.5,216V217M70.5,216V217M71.5,216V217M72.5,216V217M73.5,216V217M74.5,215V216M75.5,215V216M76.5,215V216M77.5,215V216M78.5,215V216M79.5,215V216M80.5,215V216M81.5,215V216M82.5,215V216M83.5,214V215M84.5,214V215M85.5,214V215M86.5,214V215M87.5,214V215M88.5,214V215M89.5,214V215M90.5,213V214M91.5,213V214M92.5,213V214M93.5,213V214M94.5,213V214M95.5,213V214M96.5,212V213M97.5,212V213M98.5,212V213M99.5,212V213M100.5,212V213M101.5,212V213M102.5,211V212M103.5,211V212M104.5,211V212M105.5,211V212M106.5,210V211M107.5,210V211M108.5,210V211M109.5,210V211M110.5,210V211M111.5,209V210M112.5,209V210M113.5,209V210M114.5,209V210M115.5,208V209M116.5,208V209M117.5,208V209M118.5,208V209M119.5,207V208M120.5,207V208M121.5,207V208M122.5,206V207M123.5,206V207M124.5,206V207M125.5,206V207M126.5,205V206M127.5,205V206M128.5,205V206M129.5,204V205M130.5,204V205M131.5,204V205M132.5,204V205M133.5,203V204M134.5,203V204M135.5,203V204M136.5,202V203M137.5,202V203M138.5,202V203M139.5,201V202M140.5,201V202M141.5,201V202M142.5,200V201M143.5,200V201M144.5,200V201M145.5,199V200M146.5,199V200M147.5,199V200M148.5,198V199M149.5,198V199M150.5,198V199M151.5,197V198M152.5,197V198M153.5,197V198M154.5,196V197M155.5,196V197M156.5,196V197M157.5,195V196M158.5,195V196M159.5,195V196M160.5,194V195M161.5,194V195M162.5,194V195M163.5,193V194M164.5,193V194M165.5,193V194M166.5,192V193M167.5,192V193M168.5,192V193M169.5,191V192M170.5,191V192M171.5,191V192M172.5,190V191M173.5,190V191M174.5,190V191M175.5,190V191M176.5,189V190M177.5,189V190M178.5,189V190M179.5,188V189M180.5,188V189M181.5,188V189M182.5,188V189M183.5,187V188M184.5,187V188M185.5,187V188M186.5,186V187M187.5,186V187M188.5,186V187M189.5,185V186M190.5,185V186M191.5,185V186M192.5,185V186M193.5,184V185M194.5,184V185M195.5,184V185M196.5,184V185M197.5,183V184M198.5,183V184M199.5,183V184M200.5,183V184M201.5,182V183M202.5,182V183M203.5,182V183M204.5,181V182M205.5,181V182M206.5,181V182M207.5,181V182M208.5,180V181M209.5,180V181M210.5,180V181M211.5,180V181M212.5,180V181M213.5,179V180M214.5,179V180M215.5,179V180M216.5,179V180M217.5,178V179M218.5,178V179M219.5,178V179M220.5,178V179M221.5,178V179M222.5,178V179M223.5,177V178M224.5,177V178M225.5,177V178M226.5,177V178M227.5,177V178M228.5,177V178M229.5,176V177M230.5,176V177M231.5,176V177M232.5,176V177M233.5,176V177M234.5,176V177M235.5,176V177M236.5,176V177M237.5,175V176M238.5,175V176M239.5,175V176M240.5,175V176M241.5,175V176M242.5,175V176M243.5,175V176M244.5,175V176M245.5,175V176M246.5,175V176M247.5,175V176M248.5,175V176M249.5,175V176M250.5,175V176M251.5,175V176M252.5,175V176M253.5,175V176M254.5,175V176M255.5,175V176M256.5,175V176M257.5,175V176M258.5,175V176M259.5,175V176M260.5,175V176M261.5,175V176M262.5,175V176M263.5,175V176M264.5,175V176M265.5,175V176M266.5,175V176M267.5,175V176M268.5,175V176M269.5,175V176M270.5,175V176M271.5,176V177M272.5,176V177M273.5,176V177M274.5,176V177M275.5,176V177M276.5,176V177M277.5,176V177M278.5,177V178M279.5,177V178M280.5,177V178M281.5,177V178M282.5,177V178M283.5,178V179M284.5,178V179M285.5,178V179M286.5,178V179M287.5,179V180M288.5,179V180M289.5,179V180M290.5,180V181M291.5,180V181M292.5,180V181M293.5,181V182M294.5,181V182M295.5,181V182M296.5,181V182M297.5,182V183M298.5,182V183M299.5,182V183M300.5,183V184M301.5,183V184M302.5,183V184M303.5,184V185M304.5,184V185M305.5,185V186M306.5,185V186M307.5,185V186M308.5,186V187M309.5,186V187M310.5,186V187M311.5,187V188M312.5,187V188M313.5,187V188M314.5,188V189M315.5,188V189M316.5,189V190M317.5,189V190M318.5,189V190M319.5,190V191M320.5,190V191M321.5,191V192M322.5,191V192M323.5,192V193M324.5,192V193M325.5,192V193M326.5,193V194M327.5,193V194M328.5,194V195M329.5,194V195M330.5,195V196M331.5,195V196M332.5,196V197M333.5,196V197M334.5,197V198M335.5,197V198M336.5,198V199M337.5,198V199M338.5,199V200M339.5,199V200M340.5,200V201M341.5,200V201M342.5,201V202M343.5,201V202M344.5,202V203M345.5,202V203M346.5,203V204M347.5,203V204M348.5,204V205M349.5,205V206M350.5,205V206M351.5,206V207M352.5,206V207M353.5,207V208M354.5,207V208M355.5,208V209M356.5,208V209M357.5,209V210M358.5,210V211M359.5,210V211M360.5,211V212M361.5,211V212M362.5,212V213M363.5,212V213M364.5,213V214M365.5,213V214M366.5,214V215M367.5,215V216M368.5,215V216M369.5,216V217M370.5,216V217M371.5,217V218M372.5,217V218M373.5,218V219M374.5,218V219M375.5,219V220M376.5,220V221M377.5,220V221M378.5,221V222M379.5,221V222M380.5,222V223M381.5,222V223M382.5,223V224M383.5,224V225M384.5,224V225M385.5,225V226M386.5,225V226M387.5,226V227M388.5,227V228M389.5,227V228M390.5,228V229M391.5,228V229M392.5,229V230M393.5,230V231M394.5,230V231M395.5,231V232M396.5,231V232M397.5,232V233M398.5,233V234M399.5,233V234M400.5,234V235M401.5,235V236M402.5,235V236M403.5,236V237M404.5,236V237M405.5,237V238M406.5,238V239M407.5,238V239M408.5,239V240M409.5,240V241M410.5,240V241M411.5,241V242M412.5,242V243M413.5,242V243M414.5,243V244M415.5,243V244M416.5,244V245M417.5,245V246M418.5,245V246M419.5,246V247M420.5,247V248M421.5,247V248M422.5,248V249M423.5,249V250M424.5,249V250M425.5,250V251M426.5,251V252M427.5,251V252M428.5,252V253M429.5,253V254M430.5,253V254M431.5,254V255M432.5,255V256M433.5,256V257M434.5,256V257M435.5,257V258M436.5,258V259M437.5,258V259M438.5,259V260M439.5,260V261M440.5,261V262M441.5,261V262M442.5,262V263M443.5,263V264M444.5,263V264M445.5,264V265M446.5,265V266M447.5,266V267M448.5,266V267M449.5,267V268M450.5,268V269M451.5,269V270M452.5,269V270M453.5,270V271M454.5,271V272M455.5,272V273M456.5,272V273M457.5,273V274M458.5,274V275M459.5,275V276M460.5,276V277M461.5,276V277M462.5,277V278M463.5,278V279M464.5,279V280M465.5,280V281M466.5,281V282M467.5,282V283M468.5,282V283M469.5,283V284M470.5,284V285M471.5,285V286M472.5,286V287M473.5,287V288M474.5,288V289M475.5,289V290M476.5,289V290M477.5,290V291M478.5,291V292M479.5,292V293M480.5,293V294M481.5,294V295M482.5,295V296M483.5,296V297M484.5,297V298M485.5,298V299M486.5,299V300M487.5,300V301M488.5,301V302M489.5,302V303M490.5,303V304M491.5,303V304M492.5,304V305M493.5,305V306M494.5,306V307M495.5,307V308M496.5,308V309M497.5,309V310M498.5,310V311M499.5,311V312M500.5,312V313M501.5,313V314M502.5,314V315M503.5,315V316M504.5,316V317M505.5,317V318M506.5,318V319M507.5,319V320M508.5,320V321M509.5,321V322M510.5,322V323M511.5,323V324M512.5,324V325M513.5,325V326M514.5,326V327M515.5,327V328M516.5,328V330M517.5,330V331M518.5,331V332M519.5,332V333M520.5,333V334M521.5,334V335M522.5,335V337M523.5,337V338M524.5,338V339M525.5,339V340M526.5,340V341M527.5,341V342M528.5,342V344M529.5,344V345M530.5,345V346M531.5,346V347M532.5,347V348M533.5,348V349M534.5,349V351M535.5,351V352M536.5,352V353M537.5,353V354M538.5,354V355M539.5,355V357M540.5,357V358M541.5,358V359M542.5,359V361M543.5,361V362M544.5,362V363M545.5,363V365M546.5,365V366M547.5,366V367M548.5,367V368M549.5,368V370M550.5,370V371M551.5,371V372M552.5,372V373M553.5,373V375M554.5,375V376M555.5,376V377M556.5,377V378M557.5,378V379M558.5,379V381M559.5,381V382M560.5,382V383M561.5,383V384M562.5,384V385M563.5,385V386M564.5,386V387M565.5,387V388M566.5,388V389M567.5,389V390M568.5,390V391M569.5,391V392M570.5,392V394M571.5,394V395M572.5,395V396M573.5,396V397M574.5,397V399M575.5,399V400M576.5,400V401M577.5,401V402M578.5,402V404M579.5,404V405M580.5,405V406M581.5,406V407M582.5,407V409M583.5,409V410M584.5,410V411M585.5,411V412M586.5,412V413M587.5,413V414M588.5,414V416M589.5,416V417M590.5,417V418M591.5,418V419M592.5,419V420M593.5,420V421M594.5,421V422M595.5,422V423M596.5,423V424M597.5,424V425M598.5,425V426M599.5,426V427M600.5,427V428M601.5,428V430M602.5,430V431M603.5,431V432M604.5,432V433M605.5,433V434M606.5,434V435M607.5,435V436M608.5,436V437M609.5,437V438M610.5,438V439M611.5,438V439M612.5,439V440M613.5,440V441M614.5,441V442M615.5,442V443M616.5,442V443M617.5,443V444M618.5,444V445M619.5,445V446M620.5,445V446M621.5,446V447M622.5,446V447M623.5,447V448M624.5,448V449M625.5,448V449M626.5,449V450M627.5,450V451M628.5,451V452M629.5,452V453M630.5,452V453M631.5,453V454M632.5,454V455M633.5,455V456M634.5,456V457M635.5,457V458M636.5,457V458M637.5,458V459M638.5,459V460M639.5,459V460M640.5,460V461M641.5,461V462M642.5,461V462M643.5,462V463M644.5,462V463M645.5,463V464M646.5,463V464M647.5,464V465M648.5,464V465M649.5,465V466M650.5,465V466M651.5,466V467M652.5,466V467M653.5,466V467M654.5,467V468M655.5,467V468M656.5,468V469M657.5,468V469M658.5,469V470M659.5,469V470M660.5,469V470M661.5,470V471M662.5,470V471M663.5,471V472M664.5,471V472M665.5,471V472M666.5,472V473M667.5,472V473M668.5,472V473M669.5,473V474M670.5,473V474M671.5,473V474M672.5,474V475M673.5,474V475M674.5,475V476M675.5,475V476" stroke="#fb2638" stroke-width="1" fill="none"/>
<path d="M774.5,204V205M775.5,204V205M776.5,204V205M777.5,204V205M778.5,204V205M779.5,204V205M780.5,205V206M781.5,205V206M782.5,205V206M783.5,205V206M784.5,205V206M785.5,205V206M786.5,205V206M787.5,205V206M788.5,205V206M789.5,206V207M790.5,206V207M791.5,206V207M792.5,206V207M793.5,206V207M794.5,206V207M795.5,206V207M796.5,206V207M797.5,206V207M798.5,206V207M799.5,206V207M800.5,206V207M801.5,206V207M802.5,206V207M803.5,206V207M804.5,206V207M805.5,206V207M806.5,206V207M807.5,206V207M808.5,205V206M809.5,205V206M810.5,205V206M811.5,205V206M812.5,205V206M813.5,205V206M814.5,205V206M815.5,205V206M816.5,205V206M817.5,205V206M818.5,205V206M819.5,205V206M820.5,205V206M821.5,205V206M822.5,205V206M823.5,205V206M824.5,205V206M825.5,204V205M826.5,204V205M827.5,204V205M828.5,204V205M829.5,204V205M830.5,204V205M831.5,204V205M832.5,204V205M833.5,204V205M834.5,204V205M835.5,204V205M836.5,203V204M837.5,203V204M838.5,203V204M839.5,203V204M840.5,203V204M841.5,203V204M842.5,203V204M843.5,203V204M844.5,203V204M845.5,202V203M846.5,202V203M847.5,202V203M848.5,202V203M849.5,202V203M850.5,202V203M851.5,202V203M852.5,202V203M853.5,202V203M854.5,201V202M855.5,201V202M856.5,201V202M857.5,201V202M858.5,201V202M859.5,200V201M860.5,200V201M861.5,200V201M862.5,199V200M863.5,199V200M864.5,198V199M865.5,198V199M866.5,197V198M867.5,197V198M868.5,197V198M869.5,196V197M870.5,196V197M871.5,196V197M872.5,195V196M873.5,195V196M874.5,195V196M875.5,194V195M876.5,194V195M877.5,194V195M878.5,193V194M879.5,193V194M880.5,193V194M881.5,192V193M882.5,192V193M883.5,192V193M884.5,191V192M885.5,191V192M886.5,191V192M887.5,190V191M888.5,190V191M889.5,190V191M890.5,189V190M891.5,189V190M892.5,189V190M893.5,189V190M894.5,188V189M895.5,188V189M896.5,188V189M897.5,187V188M898.5,187V188M899.5,187V188M900.5,187V188M901.5,186V187M902.5,186V187M903.5,186V187M904.5,186V187M905.5,185V186M906.5,185V186M907.5,185V186M908.5,185V186M909.5,185V186M910.5,184V185M911.5,184V185M912.5,184V185M913.5,184V185M914.5,184V185M915.5,183V184M916.5,183V184M917.5,183V184M918.5,183V184M919.5,183V184M920.5,183V184M921.5,182V183M922.5,182V183M923.5,182V183M924.5,182V183M925.5,182V183M926.5,181V182M927.5,181V182M928.5,181V182M929.5,181V182M930.5,181V182M931.5,180V181M932.5,180V181M933.5,180V181M934.5,180V181M935.5,180V181M936.5,180V181M937.5,180V181M938.5,179V180M939.5,179V180M940.5,179V180M941.5,179V180M942.5,179V180M943.5,179V180M944.5,179V180M945.5,178V179M946.5,178V179M947.5,178V179M948.5,178V179M949.5,178V179M950.5,178V179M951.5,178V179M952.5,178V179M953.5,178V179M954.5,178V179M955.5,178V179M956.5,177V178M957.5,177V178M958.5,177V178M959.5,178V179M960.5,178V179M961.5,178V179M962.5,178V179M963.5,178V179M964.5,178V179M965.5,178V179M966.5,178V179M967.5,179V180M968.5,179V180M969.5,179V180M970.5,179V180M971.5,179V180M972.5,180V181M973.5,180V181M974.5,180V181M975.5,180V181M976.5,180V181M977.5,180V181M978.5,181V182M979.5,181V182M980.5,181V182M981.5,181V182M982.5,181V182M983.5,181V182M984.5,182V183M985.5,182V183M986.5,182V183M987.5,182V183M988.5,182V183M989.5,182V183M990.5,183V184M991.5,183V184M992.5,183V184M993.5,184V185M994.5,184V185M995.5,184V185M996.5,184V185M997.5,184V185M998.5,184V185M999.5,184V185M1000.5,184V185M1001.5,185V186M1002.5,185V186M1003.5,185V186M1004.5,186V187M1005.5,186V187M1006.5,187V188M1007.5,188V189M1008.5,188V189M1009.5,189V190M1010.5,190V191M1011.5,190V191M1012.5,191V192M1013.5,191V192M1014.5,192V193M1015.5,192V193M1016.5,193V194M1017.5,194V195M1018.5,194V195M1019.5,195V196M1020.5,195V196M1021.5,196V197M1022.5,196V197M1023.5,197V198M1024.5,197V198M1025.5,198V199M1026.5,198V199M1027.5,199V200M1028.5,199V200M1029.5,200V201M1030.5,200V201M1031.5,201V202M1032.5,201V202M1033.5,201V202M1034.5,202V203M1035.5,202V203M1036.5,203V204M1037.5,203V204M1038.5,204V205M1039.5,204V205M1040.5,204V205M1041.5,205V206M1042.5,205V206M1043.5,206V207M1044.5,206V207M1045.5,206V207M1046.5,207V208M1047.5,207V208M1048.5,207V208M1049.5,208V209M1050.5,208V209M1051.5,208V209M1052.5,208V209M1053.5,209V210M1054.5,209V210M1055.5,209V210M1056.5,210V211M1057.5,210V211M1058.5,210V211M1059.5,210V211M1060.5,211V212M1061.5,211V212M1062.5,211V212M1063.5,212V213M1064.5,212V213M1065.5,212V213M1066.5,213V214M1067.5,213V214M1068.5,213V214M1069.5,214V215M1070.5,214V215M1071.5,214V215M1072.5,215V216M1073.5,215V216M1074.5,215V216M1075.5,216V217M1076.5,216V217M1077.5,216V217M1078.5,217V218M1079.5,217V218M1080.5,217V218M1081.5,218V219M1082.5,218V219M1083.5,219V220M1084.5,219V220M1085.5,219V220M1086.5,220V221M1087.5,220V221M1088.5,220V221M1089.5,221V222M1090.5,221V222M1091.5,221V222M1092.5,222V223M1093.5,222V223M1094.5,222V223M1095.5,223V224M1096.5,223V224M1097.5,223V224M1098.5,224V225M1099.5,224V225M1100.5,224V225M1101.5,224V225M1102.5,224V225M1103.5,225V226M1104.5,225V226M1105.5,225V226M1106.5,225V226M1107.5,226V227M1108.5,226V227M1109.5,227V228M1110.5,228V229M1111.5,228V229M1112.5,229V230M1113.5,230V231M1114.5,230V231M1115.5,231V232M1116.5,232V233M1117.5,233V234M1118.5,234V235M1119.5,234V235M1120.5,235V236M1121.5,236V237M1122.5,237V238M1123.5,238V239M1124.5,239V240M1125.5,240V241M1126.5,241V242M1127.5,241V242M1128.5,242V243M1129.5,243V244M1130.5,244V245M1131.5,245V246M1132.5,246V247M1133.5,247V248M1134.5,248V249M1135.5,249V250M1136.5,250V251M1137.5,251V252M1138.5,252V253M1139.5,253V254M1140.5,254V255M1141.5,255V256M1142.5,256V257M1143.5,257V258M1144.5,258V259M1145.5,259V260M1146.5,260V261M1147.5,261V262M1148.5,262V263M1149.5,263V264M1150.5,264V265M1151.5,265V266M1152.5,266V267M1153.5,267V268M1154.5,268V269M1155.5,269V270M1156.5,270V271M1157.5,271V272M1158.5,272V273M1159.5,273V274M1160.5,274V275M1161.5,274V275M1162.5,275V276M1163.5,276V277M1164.5,277V278M1165.5,278V279M1166.5,279V280M1167.5,280V281M1168.5,281V282M1169.5,282V283M1170.5,283V284M1171.5,284V285M1172.5,285V286M1173.5,285V286M1174.5,286V287M1175.5,287V288M1176.5,288V289M1177.5,289V290M1178.5,290V291M1179.5,291V292M1180.5,292V293M1181.5,292V293M1182.5,293V294M1183.5,294V295M1184.5,295V296M1185.5,296V297M1186.5,297V298M1187.5,297V298M1188.5,298V299M1189.5,299V300M1190.5,300V301M1191.5,301V302M1192.5,302V303M1193.5,302V303M1194.5,303V304M1195.5,304V305M1196.5,305V306M1197.5,305V306M1198.5,306V307M1199.5,307V308M1200.5,308V309M1201.5,308V309M1202.5,309V310M1203.5,310V311M1204.5,311V312M1205.5,311V312M1206.5,312V313M1207.5,313V314M1208.5,314V315M1209.5,315V316M1210.5,315V316M1211.5,316V317M1212.5,317V318M1213.5,318V319M1214.5,319V320M1215.5,319V320M1216.5,320V321M1217.5,321V322M1218.5,322V323M1219.5,323V324M1220.5,324V325M1221.5,325V326M1222.5,326V327M1223.5,327V328M1224.5,327V328M1225.5,328V329M1226.5,329V330M1227.5,330V331M1228.5,331V332M1229.5,332V333M1230.5,333V334M1231.5,334V335M1232.5,335V336M1233.5,336V337M1234.5,337V338M1235.5,338V339M1236.5,339V340M1237.5,340V341M1238.5,341V342M1239.5,342V343M1240.5,343V345M1241.5,345V346M1242.5,346V347M1243.5,347V348M1244.5,348V349M1245.5,349V350M1246.5,350V351M1247.5,351V353M1248.5,353V354M1249.5,354V355M1250.5,355V356M1251.5,356V358M1252.5,358V359M1253.5,359V360M1254.5,360V361M1255.5,361V363M1256.5,363V364M1257.5,364V366M1258.5,366V367M1259.5,367V369M1260.5,369V370M1261.5,370V372M1262.5,372V373M1263.5,373V375M1264.5,375V376M1265.5,376V378M1266.5,378V379M1267.5,379V380M1268.5,380V382M1269.5,382V383M1270.5,383V385M1271.5,385V386M1272.5,386V387M1273.5,387V389M1274.5,389V390M1275.5,390V391M1276.5,391V393M1277.5,393V394M1278.5,394V395M1279.5,395V396M1280.5,396V398M1281.5,398V399M1282.5,399V400M1283.5,400V402M1284.5,402V403M1285.5,403V404M1286.5,404V405M1287.5,405V407M1288.5,407V408M1289.5,408V409M1290.5,409V410M1291.5,410V411M1292.5,411V413M1293.5,413V414M1294.5,414V415M1295.5,415V416M1296.5,416V418M1297.5,418V419M1298.5,419V420M1299.5,420V421M1300.5,421V422M1301.5,422V423M1302.5,423V425M1303.5,425V426M1304.5,426V427M1305.5,427V428M1306.5,428V429M1307.5,429V430M1308.5,430V431M1309.5,431V432M1310.5,432V433M1311.5,433V434M1312.5,434V435M1313.5,435V436M1314.5,436V437M1315.5,437V438M1316.5,438V439M1317.5,438V439M1318.5,439V440M1319.5,440V441M1320.5,441V442M1321.5,442V443M1322.5,442V443M1323.5,443V444M1324.5,444V445M1325.5,444V445M1326.5,445V446M1327.5,446V447M1328.5,446V447M1329.5,447V448M1330.5,448V449M1331.5,449V450M1332.5,449V450M1333.5,450V451M1334.5,451V452M1335.5,452V453M1336.5,452V453M1337.5,453V454M1338.5,454V455M1339.5,455V456M1340.5,455V456M1341.5,456V457M1342.5,457V458M1343.5,457V458M1344.5,458V459M1345.5,459V460M1346.5,460V461M1347.5,460V461M1348.5,461V462M1349.5,461V462M1350.5,462V463M1351.5,463V464M1352.5,463V464M1353.5,464V465M1354.5,464V465M1355.5,465V466M1356.5,465V466M1357.5,466V467M1358.5,466V467M1359.5,467V468M1360.5,467V468M1361.5,467V468M1362.5,468V469M1363.5,468V469M1364.5,469V470M1365.5,469V470M1366.5,469V470M1367.5,470V471M1368.5,470V471M1369.5,471V472M1370.5,471V472M1371.5,471V472M1372.5,472V473M1373.5,472V473M1374.5,472V473M1375.5,472V473M1376.5,473V474M1377.5,473V474M1378.5,473V474M1379.5,473V474M1380.5,473V474M1381.5,473V474M1382.5,474V475M1383.5,474V475M1384.5,474V475M1385.5,474V475M1386.5,474V475M1387.5,474V475M1388.5,474V475M1389.5,474V475M1390.5,475V476M1391.5,475V476M1392.5,475V476M1393.5,475V476M1394.5,475V476M1395.5,475V476M1396.5,475V476M1397.5,475V476M1398.5,475V476M1399.5,475V476M1400.5,475V476M1401.5,475V476M1402.5,474V475M1403.5,474V475M1404.5,474V475M1405.5,474V475M1406.5,474V475M1407.5,474V475M1408.5,474V475M1409.5,474V475M1410.5,474V475M1411.5,474V475M1412.5,474V475M1413.5,474V475M1414.5,474V475M1415.5,474V475M1416.5,474V475M1417.5,474V475M1418.5,474V475" stroke="#e8920f" stroke-width="1" fill="none"/>
<path d="M774.5,203V204M775.5,203V204M776.5,203V204M777.5,203V204M778.5,203V204M779.5,203V204M780.5,203V204M781.5,203V204M782.5,203V204M783.5,203V204M784.5,203V204M785.5,203V204M786.5,203V204M787.5,203V204M788.5,203V204M789.5,204V205M790.5,204V205M791.5,204V205M792.5,204V205M793.5,204V205M794.5,204V205M795.5,204V205M796.5,204V205M797.5,204V205M798.5,204V205M799.5,204V205M800.5,204V205M801.5,204V205M802.5,204V205M803.5,204V205M804.5,204V205M805.5,204V205M806.5,204V205M807.5,204V205M808.5,204V205M809.5,204V205M810.5,204V205M811.5,204V205M812.5,204V205M813.5,204V205M814.5,204V205M815.5,204V205M816.5,204V205M817.5,204V205M818.5,204V205M819.5,204V205M820.5,204V205M821.5,204V205M822.5,204V205M823.5,204V205M824.5,204V205M825.5,204V205M826.5,204V205M827.5,204V205M828.5,204V205M829.5,204V205M830.5,204V205M831.5,204V205M832.5,204V205M833.5,204V205M834.5,204V205M835.5,204V205M836.5,204V205M837.5,204V205M838.5,204V205M839.5,204V205M840.5,204V205M841.5,204V205M842.5,204V205M843.5,204V205M844.5,204V205M845.5,204V205M846.5,204V205M847.5,204V205M848.5,204V205M849.5,204V205M850.5,204V205M851.5,204V205M852.5,204V205M853.5,204V205M854.5,204V205M855.5,204V205M856.5,204V205M857.5,204V205M858.5,204V205M859.5,204V205M860.5,203V204M861.5,203V204M862.5,203V204M863.5,203V204M864.5,203V204M865.5,203V204M866.5,203V204M867.5,202V203M868.5,202V203M869.5,202V203M870.5,202V203M871.5,202V203M872.5,202V203M873.5,201V202M874.5,201V202M875.5,201V202M876.5,201V202M877.5,201V202M878.5,200V201M879.5,200V201M880.5,200V201M881.5,200V201M882.5,200V201M883.5,199V200M884.5,199V200M885.5,199V200M886.5,199V200M887.5,199V200M888.5,198V199M889.5,198V199M890.5,198V199M891.5,198V199M892.5,198V199M893.5,197V198M894.5,197V198M895.5,197V198M896.5,197V198M897.5,196V197M898.5,196V197M899.5,196V197M900.5,196V197M901.5,196V197M902.5,195V196M903.5,195V196M904.5,195V196M905.5,195V196M906.5,195V196M907.5,194V195M908.5,194V195M909.5,194V195M910.5,194V195M911.5,194V195M912.5,194V195M913.5,193V194M914.5,193V194M915.5,193V194M916.5,193V194M917.5,193V194M918.5,192V193M919.5,192V193M920.5,192V193M921.5,192V193M922.5,192V193M923.5,191V192M924.5,191V192M925.5,191V192M926.5,191V192M927.5,191V192M928.5,190V191M929.5,190V191M930.5,190V191M931.5,190V191M932.5,190V191M933.5,189V190M934.5,189V190M935.5,189V190M936.5,189V190M937.5,189V190M938.5,188V189M939.5,188V189M940.5,188V189M941.5,188V189M942.5,188V189M943.5,187V188M944.5,187V188M945.5,187V188M946.5,187V188M947.5,187V188M948.5,186V187M949.5,186V187M950.5,186V187M951.5,186V187M952.5,186V187M953.5,185V186M954.5,185V186M955.5,185V186M956.5,185V186M957.5,185V186M958.5,185V186M959.5,184V185M960.5,184V185M961.5,184V185M962.5,184V185M963.5,184V185M964.5,183V184M965.5,183V184M966.5,183V184M967.5,183V184M968.5,183V184M969.5,183V184M970.5,182V183M971.5,182V183M972.5,182V183M973.5,182V183M974.5,182V183M975.5,182V183M976.5,182V183M977.5,181V182M978.5,181V182M979.5,181V182M980.5,181V182M981.5,181V182M982.5,181V182M983.5,181V182M984.5,181V182M985.5,181V182M986.5,181V182M987.5,181V182M988.5,181V182M989.5,182V183M990.5,182V183M991.5,182V183M992.5,182V183M993.5,182V183M994.5,182V183M995.5,182V183M996.5,182V183M997.5,182V183M998.5,182V183M999.5,182V183M1000.5,182V183M1001.5,182V183M1002.5,182V183M1003.5,182V183M1004.5,182V183M1005.5,182V183M1006.5,182V183M1007.5,182V183M1008.5,182V183M1009.5,182V183M1010.5,182V183M1011.5,182V183M1012.5,183V184M1013.5,183V184M1014.5,183V184M1015.5,183V184M1016.5,183V184M1017.5,183V184M1018.5,183V184M1019.5,183V184M1020.5,184V185M1021.5,184V185M1022.5,184V185M1023.5,184V185M1024.5,184V185M1025.5,185V186M1026.5,185V186M1027.5,185V186M1028.5,185V186M1029.5,185V186M1030.5,186V187M1031.5,186V187M1032.5,186V187M1033.5,186V187M1034.5,187V188M1035.5,187V188M1036.5,187V188M1037.5,187V188M1038.5,188V189M1039.5,188V189M1040.5,188V189M1041.5,188V189M1042.5,189V190M1043.5,189V190M1044.5,189V190M1045.5,190V191M1046.5,190V191M1047.5,190V191M1048.5,191V192M1049.5,191V192M1050.5,191V192M1051.5,191V192M1052.5,192V193M1053.5,192V193M1054.5,192V193M1055.5,193V194M1056.5,193V194M1057.5,193V194M1058.5,194V195M1059.5,194V195M1060.5,194V195M1061.5,195V196M1062.5,195V196M1063.5,196V197M1064.5,196V197M1065.5,196V197M1066.5,197V198M1067.5,197V198M1068.5,197V198M1069.5,198V199M1070.5,198V199M1071.5,198V199M1072.5,199V200M1073.5,199V200M1074.5,200V201M1075.5,200V201M1076.5,200V201M1077.5,201V202M1078.5,201V202M1079.5,201V202M1080.5,202V203M1081.5,202V203M1082.5,203V204M1083.5,203V204M1084.5,203V204M1085.5,204V205M1086.5,204V205M1087.5,204V205M1088.5,205V206M1089.5,205V206M1090.5,206V207M1091.5,206V207M1092.5,206V207M1093.5,207V208M1094.5,207V208M1095.5,208V209M1096.5,208V209M1097.5,208V209M1098.5,209V210M1099.5,209V210M1100.5,210V211M1101.5,210V211M1102.5,211V212M1103.5,211V212M1104.5,211V212M1105.5,212V213M1106.5,212V213M1107.5,213V214M1108.5,213V214M1109.5,214V215M1110.5,214V215M1111.5,214V215M1112.5,215V216M1113.5,215V216M1114.5,216V217M1115.5,216V217M1116.5,217V218M1117.5,217V218M1118.5,217V218M1119.5,218V219M1120.5,218V219M1121.5,218V219M1122.5,219V220M1123.5,219V220M1124.5,220V221M1125.5,220V221M1126.5,220V221M1127.5,221V222M1128.5,221V222M1129.5,222V223M1130.5,222V223M1131.5,223V224M1132.5,223V224M1133.5,224V225M1134.5,224V225M1135.5,225V226M1136.5,225V226M1137.5,226V227M1138.5,226V227M1139.5,227V228M1140.5,227V228M1141.5,228V229M1142.5,228V229M1143.5,229V230M1144.5,229V230M1145.5,230V231M1146.5,231V232M1147.5,231V232M1148.5,232V233M1149.5,232V233M1150.5,233V234M1151.5,234V235M1152.5,234V235M1153.5,235V236M1154.5,236V237M1155.5,236V237M1156.5,237V238M1157.5,238V239M1158.5,239V240M1159.5,239V240M1160.5,240V241M1161.5,241V242M1162.5,241V242M1163.5,242V243M1164.5,243V244M1165.5,244V245M1166.5,244V245M1167.5,245V246M1168.5,246V247M1169.5,247V248M1170.5,247V248M1171.5,248V249M1172.5,249V250M1173.5,249V250M1174.5,250V251M1175.5,251V252M1176.5,252V253M1177.5,252V253M1178.5,253V254M1179.5,254V255M1180.5,255V256M1181.5,255V256M1182.5,256V257M1183.5,257V258M1184.5,258V259M1185.5,258V259M1186.5,259V260M1187.5,260V261M1188.5,261V262M1189.5,262V263M1190.5,262V263M1191.5,263V264M1192.5,264V265M1193.5,265V266M1194.5,266V267M1195.5,267V268M1196.5,267V268M1197.5,268V269M1198.5,269V270M1199.5,270V271M1200.5,271V272M1201.5,272V273M1202.5,273V274M1203.5,274V275M1204.5,274V275M1205.5,275V276M1206.5,276V277M1207.5,277V278M1208.5,278V279M1209.5,279V280M1210.5,280V281M1211.5,280V281M1212.5,281V282M1213.5,282V283M1214.5,283V284M1215.5,284V285M1216.5,285V286M1217.5,286V287M1218.5,287V288M1219.5,288V289M1220.5,288V289M1221.5,289V290M1222.5,290V291M1223.5,291V292M1224.5,292V293M1225.5,293V294M1226.5,294V295M1227.5,295V296M1228.5,296V297M1229.5,297V298M1230.5,298V299M1231.5,298V299M1232.5,299V300M1233.5,300V301M1234.5,301V302M1235.5,302V303M1236.5,303V304M1237.5,304V305M1238.5,305V306M1239.5,306V307M1240.5,307V308M1241.5,308V309M1242.5,309V310M1243.5,310V311M1244.5,311V312M1245.5,311V312M1246.5,312V313M1247.5,313V314M1248.5,314V315M1249.5,315V316M1250.5,316V317M1251.5,317V318M1252.5,318V319M1253.5,319V320M1254.5,320V321M1255.5,321V322M1256.5,322V323M1257.5,323V324M1258.5,324V325M1259.5,325V326M1260.5,326V327M1261.5,327V328M1262.5,328V329M1263.5,329V330M1264.5,330V331M1265.5,331V332M1266.5,332V333M1267.5,333V334M1268.5,334V335M1269.5,335V336M1270.5,336V338M1271.5,338V339M1272.5,339V340M1273.5,340V341M1274.5,341V342M1275.5,342V343M1276.5,343V344M1277.5,344V345M1278.5,345V346M1279.5,346V347M1280.5,347V349M1281.5,349V350M1282.5,350V351M1283.5,351V352M1284.5,352V353M1285.5,353V354M1286.5,354V355M1287.5,355V356M1288.5,356V357M1289.5,357V358M1290.5,358V359M1291.5,359V360M1292.5,360V361M1293.5,361V362M1294.5,362V363M1295.5,363V364M1296.5,364V366M1297.5,366V367M1298.5,367V368M1299.5,368V369M1300.5,369V370M1301.5,370V371M1302.5,371V372M1303.5,372V374M1304.5,374V375M1305.5,375V376M1306.5,376V377M1307.5,377V379M1308.5,379V380M1309.5,380V381M1310.5,381V382M1311.5,382V383M1312.5,383V385M1313.5,385V386M1314.5,386V387M1315.5,387V388M1316.5,388V389M1317.5,389V390M1318.5,390V392M1319.5,392V393M1320.5,393V394M1321.5,394V395M1322.5,395V396M1323.5,396V397M1324.5,397V398M1325.5,398V399M1326.5,399V401M1327.5,401V402M1328.5,402V403M1329.5,403V404M1330.5,404V405M1331.5,405V406M1332.5,406V407M1333.5,407V408M1334.5,408V409M1335.5,409V411M1336.5,411V412M1337.5,412V413M1338.5,413V414M1339.5,414V415M1340.5,415V416M1341.5,416V417M1342.5,417V418M1343.5,418V419M1344.5,419V420M1345.5,420V421M1346.5,421V422M1347.5,422V423M1348.5,423V424M1349.5,424V425M1350.5,425V426M1351.5,426V427M1352.5,427V428M1353.5,427V428M1354.5,428V429M1355.5,429V430M1356.5,430V431M1357.5,431V432M1358.5,432V433M1359.5,433V434M1360.5,434V435M1361.5,434V435M1362.5,435V436M1363.5,436V437M1364.5,437V438M1365.5,438V439M1366.5,439V440M1367.5,440V441M1368.5,440V441M1369.5,441V442M1370.5,442V443M1371.5,443V444M1372.5,443V444M1373.5,444V445M1374.5,445V446M1375.5,446V447M1376.5,446V447M1377.5,447V448M1378.5,448V449M1379.5,448V449M1380.5,449V450M1381.5,450V451M1382.5,450V451M1383.5,451V452M1384.5,451V452M1385.5,452V453M1386.5,453V454M1387.5,453V454M1388.5,454V455M1389.5,454V455M1390.5,455V456M1391.5,455V456M1392.5,456V457M1393.5,456V457M1394.5,457V458M1395.5,457V458M1396.5,458V459M1397.5,458V459M1398.5,459V460M1399.5,459V460M1400.5,460V461M1401.5,460V461M1402.5,461V462M1403.5,461V462M1404.5,462V463M1405.5,462V463M1406.5,462V463M1407.5,463V464M1408.5,463V464M1409.5,464V465M1410.5,464V465M1411.5,464V465M1412.5,465V466M1413.5,465V466M1414.5,466V467M1415.5,466V467M1416.5,466V467M1417.5,467V468M1418.5,467V468" stroke="#fb2638" stroke-width="1" fill="none"/>
<rect x="116" y="78" width="9" height="1" fill="#0c2238"/>
<rect x="117" y="77" width="2" height="1" fill="#0c2238"/>
<text x="126 132 138 144 150" y="82" font-family="'Liberation Serif','Noto Serif CJK SC',serif" font-size="12" fill="#0f2a48" stroke="#0f2a48" stroke-width="0.15">21.71</text>
<rect x="520" y="699" width="9" height="1" fill="#0c2238"/>
<rect x="526" y="698" width="2" height="1" fill="#0c2238"/>
<text x="490 496 502 508 514" y="703" font-family="'Liberation Serif','Noto Serif CJK SC',serif" font-size="12" fill="#0f2a48" stroke="#0f2a48" stroke-width="0.15">13.64</text>
<rect x="900" y="78" width="9" height="1" fill="#0c2238"/>
<rect x="901" y="77" width="2" height="1" fill="#0c2238"/>
<text x="910 916 922 928 934 940 946" y="82" font-family="'Liberation Serif','Noto Serif CJK SC',serif" font-size="12" fill="#0f2a48" stroke="#0f2a48" stroke-width="0.15">3708.94</text>
<rect x="1263" y="699" width="9" height="1" fill="#0c2238"/>
<rect x="1269" y="698" width="2" height="1" fill="#0c2238"/>
<text x="1221 1227 1233 1239 1245 1251 1257" y="703" font-family="'Liberation Serif','Noto Serif CJK SC',serif" font-size="12" fill="#0f2a48" stroke="#0f2a48" stroke-width="0.15">2863.65</text>
<g shape-rendering="geometricPrecision" fill="none" stroke="#000" stroke-width="3.2">
<ellipse cx="678.5" cy="480" rx="22.4" ry="15.3"/>
<ellipse cx="1422" cy="473" rx="16.4" ry="17.4"/>
</g>
<clipPath id="cl"><rect x="21" y="729" width="688" height="16"/></clipPath>
<clipPath id="cr"><rect x="763.5" y="729" width="700" height="16"/></clipPath>
<g clip-path="url(#cl)">
<text x="20.5" y="740.8" font-family="'Liberation Sans','Noto Sans CJK SC',sans-serif" font-size="11" fill="#1a1a1a">11月</text>
<text x="105.4" y="740.8" font-family="'Liberation Sans','Noto Sans CJK SC',sans-serif" font-size="11" fill="#1a1a1a">12月</text>
<text x="212" y="740.8" font-family="'Liberation Sans','Noto Sans CJK SC',sans-serif" font-size="11" fill="#1a1a1a">2022</text>
<text x="300" y="740.8" font-family="'Liberation Sans','Noto Sans CJK SC',sans-serif" font-size="11" fill="#1a1a1a">2月</text>
<text x="365" y="740.8" font-family="'Liberation Sans','Noto Sans CJK SC',sans-serif" font-size="11" fill="#1a1a1a">3月</text>
<text x="450" y="740.8" font-family="'Liberation Sans','Noto Sans CJK SC',sans-serif" font-size="11" fill="#1a1a1a">4月</text>
<text x="557.5" y="740.8" font-family="'Liberation Sans','Noto Sans CJK SC',sans-serif" font-size="11" fill="#1a1a1a">5月</text>
<text x="642" y="740.8" font-family="'Liberation Sans','Noto Sans CJK SC',sans-serif" font-size="11" fill="#1a1a1a">6月</text>
</g>
<g clip-path="url(#cr)">
<text x="762.5" y="740.8" font-family="'Liberation Sans','Noto Sans CJK SC',sans-serif" font-size="11" fill="#1a1a1a">11月</text>
<text x="848.4" y="740.8" font-family="'Liberation Sans','Noto Sans CJK SC',sans-serif" font-size="11" fill="#1a1a1a">12月</text>
<text x="955" y="740.8" font-family="'Liberation Sans','Noto Sans CJK SC',sans-serif" font-size="11" fill="#1a1a1a">2022</text>
<text x="1043" y="740.8" font-family="'Liberation Sans','Noto Sans CJK SC',sans-serif" font-size="11" fill="#1a1a1a">2月</text>
<text x="1108" y="740.8" font-family="'Liberation Sans','Noto Sans CJK SC',sans-serif" font-size="11" fill="#1a1a1a">3月</text>
<text x="1193.5" y="740.8" font-family="'Liberation Sans','Noto Sans CJK SC',sans-serif" font-size="11" fill="#1a1a1a">4月</text>
<text x="1300.5" y="740.8" font-family="'Liberation Sans','Noto Sans CJK SC',sans-serif" font-size="11" fill="#1a1a1a">5月</text>
</g>
<rect x="709" y="728" width="51" height="16" fill="#f1f1f1"/>
<text x="722.5" y="741" font-family="'Liberation Sans','Noto Sans CJK SC',sans-serif" font-size="12" fill="#636b74">周线</text>
<rect x="759" y="728" width="1" height="1" fill="#3b78e7"/>
<rect x="1352" y="729" width="100" height="15" fill="#e9f0fe"/>
<text x="1363 1369 1375 1381 1388.5 1393 1399 1406.5 1411 1417 1424.5 1429" y="740.5" font-family="'Liberation Sans','Noto Sans CJK SC',sans-serif" font-size="11" fill="#111">2022/06/14/二</text>
<rect x="1452" y="728" width="51" height="16" fill="#f1f1f1"/>
<text x="1465" y="740" font-family="'Liberation Sans','Noto Sans CJK SC',sans-serif" font-size="12" fill="#2b6de5">周线</text>
<rect x="1502" y="728" width="1" height="1" fill="#3b78e7"/>
</svg>
</body></html>
